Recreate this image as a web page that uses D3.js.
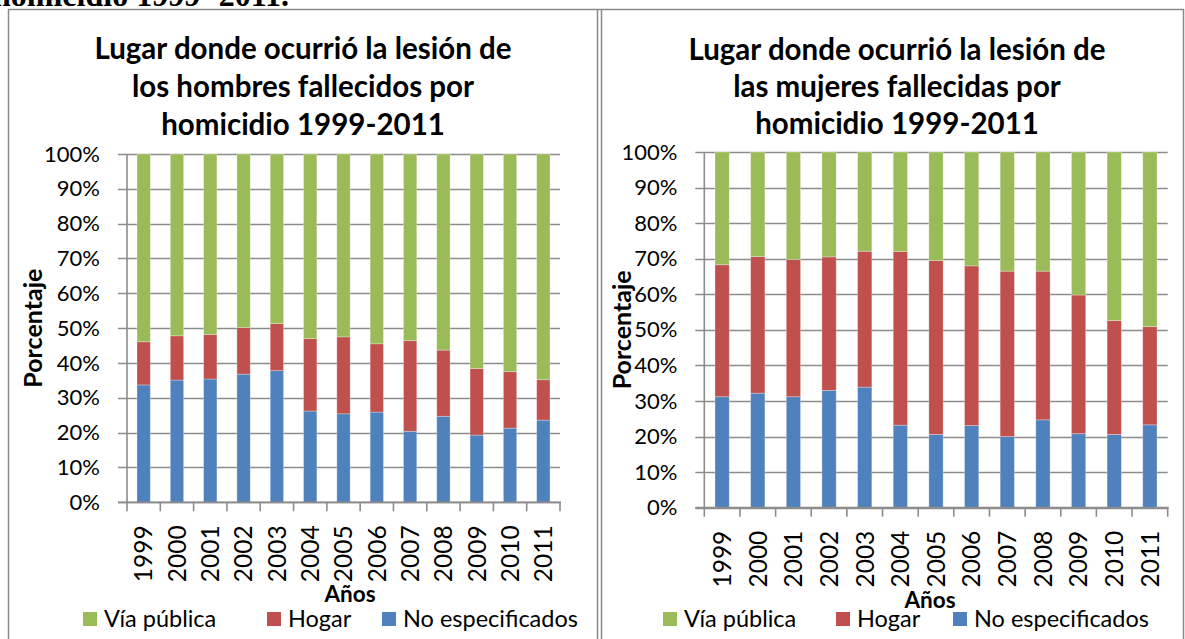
<!DOCTYPE html>
<html>
<head>
<meta charset="utf-8">
<script src="https://cdn.jsdelivr.net/npm/d3@7"></script>
<style>
body{margin:0;background:#fff;}
svg{display:block;}
text{font-family:Lato,"Open Sans",sans-serif;fill:#000;}
</style>
</head>
<body>
<div id="content"></div>
<script>
// data (percent)
var years = ['1999','2000','2001','2002','2003','2004','2005','2006','2007','2008','2009','2010','2011'];
var seriesNames = ['Vía pública','Hogar','No especificados'];
var yTicks = [0,10,20,30,40,50,60,70,80,90,100];

var hombresNoEsp = [33.7,35.1,35.4,36.8,37.8,26.2,25.4,25.9,20.4,24.7,19.3,21.3,23.6];
var hombresHogar = [12.4,12.7,12.8,13.4,13.5,20.8,22.1,19.6,26.0,19.0,19.1,16.2,11.6];
var hombresVia   = [53.9,52.2,51.8,49.8,48.7,53.0,52.5,54.5,53.6,56.3,61.6,62.5,64.8];

var mujeresNoEsp = [31.2,32.2,31.2,33.0,33.9,23.2,20.6,23.1,20.0,24.7,20.8,20.6,23.3];
var mujeresHogar = [37.1,38.4,38.6,37.5,38.2,48.8,48.9,44.9,46.5,41.8,39.0,32.0,27.6];
var mujeresVia   = [31.7,29.4,30.2,29.5,27.9,28.0,30.5,32.0,33.5,33.5,40.2,47.4,49.1];

var titleHombres = ['Lugar donde ocurrió la lesión de','los hombres fallecidos por','homicidio 1999-2011'];
var titleMujeres = ['Lugar donde ocurrió la lesión de','las mujeres fallecidas por','homicidio 1999-2011'];

var colors = {via:'#9BBB59', hogar:'#C0504D', noEsp:'#4F81BD'};

var width = 1185, height = 639;
var svg = d3.select('#content').append('svg').attr('width', width).attr('height', height);

// table borders around the two charts
var borderColor = '#8a8a8a';
svg.append('text')
	.attr('x', -7).attr('y', 6)
	.style('font-family', '"Liberation Serif",serif')
	.style('font-weight', 'bold')
	.style('font-size', '32px')
	.text('homicidio 1999- 2011.');
svg.append('line').attr('x1',8).attr('x2',1184).attr('y1',9.5).attr('y2',9.5).attr('stroke',borderColor).attr('stroke-width',1.5);
[8.5, 597.5, 601.5, 1183.5].forEach(function(bx){
	svg.append('line').attr('x1',bx).attr('x2',bx).attr('y1',9).attr('y2',height).attr('stroke',borderColor).attr('stroke-width',1.5);
});

drawChart(svg, {
	title : titleHombres, titleY : [59,97,135], titleX : 303,
	left : 127, right : 560, top : 154, bottom : 502.3,
	noEsp : hombresNoEsp, hogar : hombresHogar, via : hombresVia,
	yTitleX : 42, anosX : 350, anosY : 602,
	legendX : 83, legendY : 619, legendOff : [0,184,299]
});
drawChart(svg, {
	title : titleMujeres, titleY : [60,97,134], titleX : 897,
	left : 704.3, right : 1167.7, top : 152, bottom : 507.7,
	noEsp : mujeresNoEsp, hogar : mujeresHogar, via : mujeresVia,
	yTitleX : 631, anosX : 930, anosY : 608,
	legendX : 663, legendY : 619, legendOff : [0,173,290]
});

function drawChart(svg, o){
	var g = svg.append('g');
	var rows = years.map(function(yr, i){
		return {year:yr, noEsp:o.noEsp[i], hogar:o.hogar[i], via:o.via[i]};
	});
	var stack = d3.stack().keys(['noEsp','hogar','via'])(rows);

	var x = d3.scaleBand().domain(years).range([o.left, o.right]).paddingInner(0.6).paddingOuter(0.3);
	var y = d3.scaleLinear().domain([0,100]).range([o.bottom, o.top]);

	// title
	g.append('text')
		.attr('text-anchor','middle')
		.style('font-weight','bold').style('font-size','29.5px')
		.selectAll('tspan').data(o.title).enter().append('tspan')
		.attr('x', o.titleX)
		.attr('y', function(d,i){ return o.titleY[i]; })
		.text(function(d){ return d; });

	// gridlines
	g.selectAll('.grid').data(yTicks).enter().append('line')
		.attr('x1', o.left-9).attr('x2', o.right)
		.attr('y1', function(d){ return Math.round(y(d))+0.5; })
		.attr('y2', function(d){ return Math.round(y(d))+0.5; })
		.attr('stroke','#8c8c8c').attr('stroke-width',1.6);

	// bars
	g.selectAll('.layer').data(stack).enter().append('g')
		.attr('fill', function(d){ return colors[d.key]; })
		.selectAll('rect').data(function(d){ return d; }).enter().append('rect')
		.attr('x', function(d){ return x(d.data.year); })
		.attr('width', x.bandwidth())
		.attr('y', function(d){ return y(d[1]); })
		.attr('height', function(d){ return y(d[0]) - y(d[1]); })
		.attr('stroke','rgba(255,255,255,0.35)').attr('stroke-width',0.8);

	// axis lines and tick marks
	g.append('line').attr('x1',o.left).attr('x2',o.left).attr('y1',o.top).attr('y2',o.bottom)
		.attr('stroke','#8c8c8c').attr('stroke-width',1.6);
	g.append('line').attr('x1',o.left-9).attr('x2',o.right+1).attr('y1',o.bottom).attr('y2',o.bottom)
		.attr('stroke','#8c8c8c').attr('stroke-width',1.8);
	g.selectAll('.xtick').data(d3.range(years.length+1)).enter().append('line')
		.attr('x1', function(i){ return o.left + i*x.step(); })
		.attr('x2', function(i){ return o.left + i*x.step(); })
		.attr('y1', o.bottom).attr('y2', o.bottom+9)
		.attr('stroke','#8c8c8c').attr('stroke-width',1.6);

	// y labels
	var yAxis = g.append('g').attr('transform','translate('+o.left+',0)')
		.call(d3.axisLeft(y).tickValues(yTicks).tickSize(0).tickPadding(27).tickFormat(function(d){ return d+'%'; }));
	yAxis.select('.domain').remove();
	yAxis.selectAll('text').style('font-family','Lato,sans-serif').style('font-size','22px').attr('fill','#000');

	// x labels, rotated
	var xAxis = g.append('g').attr('transform','translate(0,'+o.bottom+')')
		.call(d3.axisBottom(x).tickSize(0));
	xAxis.select('.domain').remove();
	xAxis.selectAll('text')
		.attr('transform','rotate(-90)')
		.attr('text-anchor','end')
		.attr('x',-23).attr('y',0).attr('dy','0.36em')
		.style('font-family','Lato,sans-serif').style('font-size','24.5px').attr('fill','#000');

	// axis titles
	g.append('text')
		.attr('transform','translate('+o.yTitleX+','+((o.top+o.bottom)/2)+') rotate(-90)')
		.attr('text-anchor','middle')
		.style('font-weight','bold').style('font-size','25px')
		.text('Porcentaje');
	g.append('text')
		.attr('x', o.anosX).attr('y', o.anosY)
		.attr('text-anchor','middle')
		.style('font-weight','bold').style('font-size','22.5px')
		.text('Años');

	// legend
	var keys = ['via','hogar','noEsp'];
	var lg = g.append('g').attr('transform','translate('+o.legendX+','+o.legendY+')');
	keys.forEach(function(k, i){
		lg.append('rect').attr('x', o.legendOff[i]).attr('y', -7).attr('width',14).attr('height',14).attr('fill', colors[k]);
		lg.append('text').attr('x', o.legendOff[i]+21).attr('y', 0).attr('dy','0.36em')
			.style('font-size','23.5px').text(seriesNames[i]);
	});
}
</script>
</body>
</html>
